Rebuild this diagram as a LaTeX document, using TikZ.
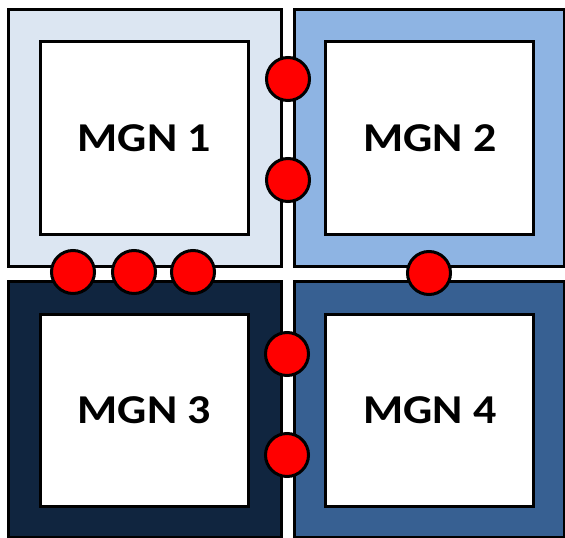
\documentclass[tikz,border=0pt]{standalone}
\usepackage{fontspec}
\newfontfamily\mgnfont[FakeStretch=1.12]{Carlito}
\usetikzlibrary{positioning}

\definecolor{mgnpale}{HTML}{DCE6F2}
\definecolor{mgnsky}{HTML}{8EB4E3}
\definecolor{mgnnavy}{HTML}{10253F}
\definecolor{mgnsteel}{HTML}{376092}

\tikzset{
    mgnouter/.style={draw=black, line width=3pt, rectangle, inner sep=0pt, outer sep=0pt},
    mgninner/.style={draw=black, fill=white, line width=3pt, rectangle, inner sep=0pt, outer sep=0pt,
        minimum width=208pt, font=\mgnfont\bfseries\fontsize{41}{46}\selectfont},
    link/.style={draw=black, fill=red, line width=3pt, circle, inner sep=0pt, minimum size=43pt}
}

\begin{document}
\begin{tikzpicture}[x=1pt, y=-1pt]
    \useasboundingbox (0,0) rectangle (565,538);

    % Outer frames
    \node[mgnouter, fill=mgnpale, minimum width=273pt, minimum height=256.5pt] (frame1) at (145,137.75) {};
    \node[mgnouter, fill=mgnsky, minimum width=269.5pt, minimum height=256.5pt] (frame2) at (429.25,137.75) {};
    \node[mgnouter, fill=mgnnavy, minimum width=273pt, minimum height=255.5pt] (frame3) at (145,409.25) {};
    \node[mgnouter, fill=mgnsteel, minimum width=269.5pt, minimum height=255.5pt] (frame4) at (429.25,409.25) {};

    % Inner boxes
    \node[mgninner, minimum height=192.5pt] (mgn1) at (144.5,137.75) {MGN 1};
    \node[mgninner, minimum height=192.5pt] (mgn2) at (429.75,137.75) {MGN 2};
    \node[mgninner, minimum height=191.5pt] (mgn3) at (144.5,410.25) {MGN 3};
    \node[mgninner, minimum height=191.5pt] (mgn4) at (429.75,410.25) {MGN 4};

    % Links between grids
    \foreach \x/\y/\name in {
        288/79/a, 288/180/b,
        73/272/c, 134/272/d, 193/272/e,
        429/273/f,
        287/354/g, 287/455/h
    } {
        \node[link] (link\name) at (\x,\y) {};
    }
\end{tikzpicture}
\end{document}
